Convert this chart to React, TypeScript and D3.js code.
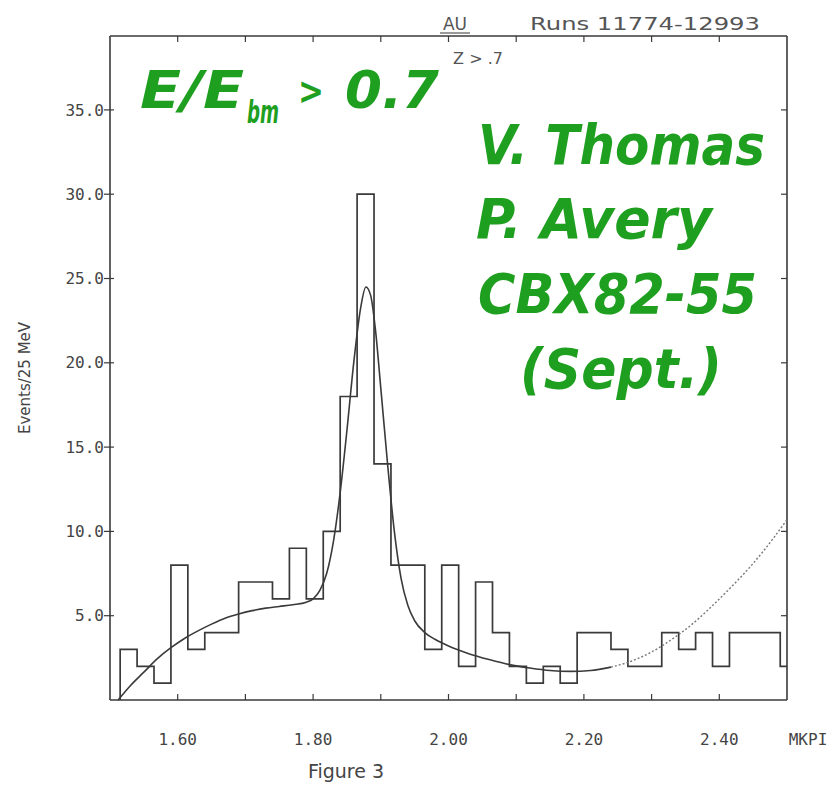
import React from 'react';
import * as d3 from 'd3';

const W = 833;
const H = 789;

// Histogram: Events / 25 MeV
const binStart = 1.515;
const binWidth = 0.025;
const counts = [3, 2, 1, 8, 3, 4, 4, 7, 7, 6, 9, 6, 10, 18, 30, 14, 8, 8, 3, 8, 2, 7, 4, 2, 1, 2, 1, 4, 4, 3, 2, 2, 4, 3, 4, 2, 4, 4, 4, 2];

// Fit curve
const fitX = [1.512, 1.53, 1.55, 1.57, 1.59, 1.61, 1.63, 1.65, 1.67, 1.69, 1.71, 1.73, 1.75, 1.77, 1.79, 1.8, 1.81, 1.82, 1.83, 1.84, 1.85, 1.86, 1.87, 1.878, 1.885, 1.892, 1.9, 1.91, 1.92, 1.93, 1.94, 1.95, 1.965, 1.98, 2.0, 2.03, 2.06, 2.09, 2.12, 2.15, 2.18, 2.21, 2.24, 2.27, 2.3, 2.33, 2.36, 2.39, 2.42, 2.45, 2.48, 2.5];
const fitY = [0, 0.85, 1.65, 2.45, 3.1, 3.65, 4.1, 4.5, 4.85, 5.1, 5.3, 5.45, 5.55, 5.65, 5.8, 6.0, 6.5, 7.5, 9.4, 12.3, 16.0, 20.0, 23.2, 24.5, 24.0, 22.0, 18.5, 14.0, 10.0, 7.2, 5.6, 4.7, 4.0, 3.6, 3.2, 2.75, 2.4, 2.1, 1.9, 1.75, 1.7, 1.75, 1.95, 2.3, 2.85, 3.6, 4.5, 5.6, 6.8, 8.1, 9.6, 10.7];
const dottedFrom = 2.24;

const xTickValues = [1.6, 1.7, 1.8, 1.9, 2.0, 2.1, 2.2, 2.3, 2.4];
const xLabelValues = [1.6, 1.8, 2.0, 2.2, 2.4];
const xLabels = ['1.60', '1.80', '2.00', '2.20', '2.40'];
const yTickValues = [5, 10, 15, 20, 25, 30, 35];
const yLabels = ['5.0', '10.0', '15.0', '20.0', '25.0', '30.0', '35.0'];

const greenLines = ['V. Thomas', 'P. Avery', 'CBX82-55', '(Sept.)'];

const INK = '#3a3a3a';
const GREEN = '#1f9f1f';

export default function App() {
  const left = 110, right = 787, top = 36, bottom = 700;
  const x = d3.scaleLinear().domain([1.5, 2.5]).range([left, right]);
  const y = d3.scaleLinear().domain([0, 35]).range([bottom, bottom - 35 * 16.86]);

  // histogram step vertices
  const verts: [number, number][] = [];
  verts.push([binStart, 0]);
  counts.forEach((c, i) => {
    const lo = binStart + i * binWidth;
    const hi = Math.min(lo + binWidth, 2.5);
    verts.push([lo, c]);
    verts.push([hi, c]);
  });
  const histLine = d3.line<[number, number]>().x(d => x(d[0])).y(d => y(d[1]));
  const histPath = histLine(verts) || '';

  const fitPts: [number, number][] = fitX.map((v, i) => [v, fitY[i]]);
  const fitLine = d3.line<[number, number]>().x(d => x(d[0])).y(d => y(d[1])).curve(d3.curveMonotoneX);
  const solidPath = fitLine(fitPts.filter(p => p[0] <= dottedFrom)) || '';
  const dottedPath = fitLine(fitPts.filter(p => p[0] >= dottedFrom)) || '';

  const greenY = [164, 238, 313, 388];
  const greenX = [478, 476, 478, 520];
  const greenLen = [287, 236, 279, 202];

  return (
    <svg width={W} height={H} style={{ position: 'absolute', left: 0, top: 0, background: '#fff' }}>
      <rect x={0} y={0} width={W} height={H} fill="#fff" />
      {/* frame */}
      <g stroke={INK} strokeWidth={1.6} fill="none">
        <line x1={left} y1={top} x2={right} y2={top} />
        <line x1={left} y1={top} x2={left} y2={bottom} />
        <line x1={right} y1={top} x2={right} y2={bottom} />
        <line x1={left} y1={bottom} x2={right} y2={bottom} />
      </g>
      {/* x ticks */}
      <g stroke={INK} strokeWidth={1.2}>
        {xTickValues.map(v => (
          <g key={v}>
            <line x1={x(v)} y1={bottom} x2={x(v)} y2={bottom - 6} />
            <line x1={x(v)} y1={top} x2={x(v)} y2={top + 6} />
          </g>
        ))}
        {yTickValues.map(v => (
          <g key={v}>
            <line x1={left - 6} y1={y(v)} x2={left + 4} y2={y(v)} />
            <line x1={right - 6} y1={y(v)} x2={right} y2={y(v)} />
          </g>
        ))}
      </g>
      {/* tick labels */}
      <g fontFamily="'DejaVu Sans Mono', monospace" fontSize={16} fill="#444">
        {yTickValues.map((v, i) => (
          <text key={v} x={left - 6} y={y(v)} dy="0.35em" textAnchor="end">{yLabels[i]}</text>
        ))}
        {xLabelValues.map((v, i) => (
          <text key={v} x={x(v)} y={745} textAnchor="middle">{xLabels[i]}</text>
        ))}
        <text x={808} y={745} textAnchor="middle">MKPI</text>
      </g>
      <text transform="translate(30,378) rotate(-90)" textAnchor="middle" fontFamily="'DejaVu Sans', sans-serif" fontSize={15} fill="#444">Events/25 MeV</text>
      <text x={346} y={778} textAnchor="middle" fontFamily="'DejaVu Sans', sans-serif" fontSize={19} fill="#444">Figure 3</text>
      {/* top annotations */}
      <g fontFamily="'DejaVu Sans', sans-serif" fill="#555" fontSize={17}>
        <text x={455} y={30} textAnchor="middle">AU</text>
        <text x={530} y={30} textLength={230} lengthAdjust="spacingAndGlyphs">Runs 11774-12993</text>
        <text x={478} y={64} textAnchor="middle" fontSize={16}>Z &gt; .7</text>
      </g>
      <line x1={440} y1={33} x2={470} y2={33} stroke="#555" strokeWidth={1.2} />
      {/* histogram */}
      <path d={histPath} fill="none" stroke={INK} strokeWidth={1.7} />
      {/* fit */}
      <path d={solidPath} fill="none" stroke={INK} strokeWidth={1.6} />
      <path d={dottedPath} fill="none" stroke="#777" strokeWidth={1.4} strokeDasharray="2,2" />
      {/* green annotations */}
      <g fill={GREEN} fontFamily="'DejaVu Sans', sans-serif" fontWeight="bold" fontStyle="italic">
        <text x={140} y={108} fontSize={52} textLength={104} lengthAdjust="spacingAndGlyphs">E/E</text>
        <text x={247} y={123} fontSize={32} textLength={32} lengthAdjust="spacingAndGlyphs">bm</text>
        <text x={298} y={104} fontSize={38} textLength={26} lengthAdjust="spacingAndGlyphs">&gt;</text>
        <text x={345} y={108} fontSize={52} textLength={94} lengthAdjust="spacingAndGlyphs">0.7</text>
        {greenLines.map((t, i) => (
          <text key={t} x={greenX[i]} y={greenY[i]} fontSize={56} textLength={greenLen[i]} lengthAdjust="spacingAndGlyphs">{t}</text>
        ))}
      </g>
    </svg>
  );
}
